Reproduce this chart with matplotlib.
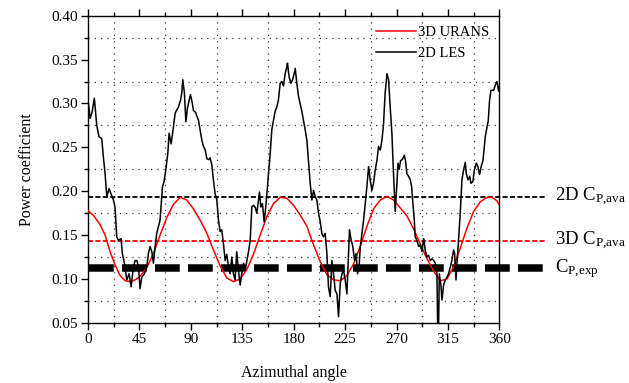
import matplotlib
matplotlib.use("Agg")
import matplotlib.pyplot as plt
from matplotlib.ticker import MultipleLocator

plt.rcParams['font.family'] = ['Liberation Serif', 'DejaVu Serif']
plt.rcParams['mathtext.fontset'] = 'custom'
plt.rcParams['mathtext.rm'] = 'Liberation Serif'
plt.rcParams['mathtext.it'] = 'Liberation Serif:italic'

# 2D LES power coefficient
les_angle = [0.3, 1.8, 3.5, 5.5, 7.6, 9.6, 12, 13.4, 14.9, 16.4, 18.4, 20.1, 22.2, 23.6, 25.1, 26.6,
             28.9, 30, 31.8, 33.9, 35.9, 37.7, 39.7, 41.2, 42.6, 44.1, 45.5, 47, 49.3, 51.4, 52.8,
             54.3, 55.8, 57.2, 58.7, 60.1, 63, 65.1, 66.5, 68, 69.8, 70.9, 72.7, 74.7, 76.2, 79.1,
             81, 82, 82.9, 84.3, 85.6, 87, 89.6, 91.3, 92.2, 94, 96.6, 98, 99.6, 101, 102.5, 104,
             105.5, 106.8, 108.3, 109.7, 111.2, 112.7, 114.1, 115.6, 117, 118.5, 120, 121.4, 122.9,
             124.3, 125.8, 127.2, 128.7, 130.1, 131.6, 133.1, 134.5, 136, 137.5, 139, 140.4, 141.9,
             143.3, 144.8, 146.2, 147.7, 149.1, 150, 151.2, 152.6, 154.1, 155, 156.5, 157.9, 159.4,
             160.8, 162.3, 163.7, 165.2, 166.6, 168.1, 169.5, 171, 172.5, 174, 174.5, 176, 177.5,
             179, 180.4, 181.3, 182.7, 184.2, 185.6, 187.1, 188.5, 190, 191.5, 192.9, 194.4, 195.9,
             197.3, 198.8, 200.2, 201.7, 203.1, 204.6, 206, 207.5, 209, 210.4, 211.9, 213.4, 214.8,
             216.3, 217.8, 219.2, 220.7, 222.2, 223.6, 225, 226.5, 227.9, 228.8, 230.3, 231.7,
             233.2, 234.6, 235.8, 237, 238.2, 239.7, 241.1, 242.6, 244, 245.5, 246.9, 248.4, 249.8,
             251.3, 252.8, 254.2, 255.7, 257.2, 258.6, 260, 261.6, 263, 264.4, 265.9, 267.3, 268.8,
             270.3, 271.2, 272.3, 273.5, 275, 276.7, 277.8, 279, 280.5, 282, 283.2, 284.3, 285.5,
             286.3, 287.8, 289.3, 290.8, 292.2, 293.6, 294.2, 295, 296.5, 298, 299.5, 301, 302.5,
             303.9, 305.3, 305.9, 306.8, 307.4, 308.8, 309.7, 311.1, 312.6, 314.1, 315.5, 317,
             318.4, 319.9, 320.8, 321.4, 322, 323, 324.3, 325.7, 327.2, 328.6, 330.1, 331, 332.5,
             334, 335.1, 336.8, 338, 339.8, 341.2, 342.6, 344, 345.6, 347.6, 349.1, 350.2, 351.4,
             352.6, 354.9, 356.4, 357.9, 359.3, 360]
les_cp = [0.300, 0.283, 0.290, 0.306, 0.275, 0.262, 0.260, 0.239, 0.220, 0.194, 0.203, 0.197, 0.190,
          0.182, 0.148, 0.144, 0.146, 0.129, 0.118, 0.099, 0.106, 0.091, 0.114, 0.121, 0.121, 0.115,
          0.089, 0.102, 0.106, 0.114, 0.129, 0.137, 0.131, 0.118, 0.137, 0.152, 0.167, 0.205, 0.211,
          0.224, 0.243, 0.266, 0.254, 0.273, 0.289, 0.296, 0.304, 0.312, 0.327, 0.312, 0.279, 0.295,
          0.310, 0.300, 0.292, 0.290, 0.281, 0.270, 0.258, 0.251, 0.247, 0.237, 0.236, 0.238, 0.230,
          0.213, 0.197, 0.190, 0.167, 0.154, 0.156, 0.140, 0.121, 0.128, 0.114, 0.106, 0.125, 0.106,
          0.099, 0.131, 0.110, 0.093, 0.106, 0.118, 0.110, 0.121, 0.131, 0.144, 0.182, 0.184, 0.182,
          0.175, 0.190, 0.199, 0.182, 0.186, 0.165, 0.175, 0.197, 0.220, 0.243, 0.270, 0.281, 0.291,
          0.296, 0.304, 0.323, 0.325, 0.320, 0.334, 0.342, 0.346, 0.330, 0.323, 0.327, 0.334, 0.340,
          0.323, 0.308, 0.300, 0.291, 0.281, 0.270, 0.258, 0.235, 0.209, 0.190, 0.201, 0.194, 0.190,
          0.175, 0.166, 0.152, 0.148, 0.152, 0.129, 0.091, 0.080, 0.121, 0.106, 0.087, 0.083, 0.057,
          0.095, 0.106, 0.110, 0.099, 0.083, 0.129, 0.156, 0.144, 0.137, 0.121, 0.129, 0.106, 0.110,
          0.136, 0.152, 0.167, 0.186, 0.205, 0.228, 0.213, 0.201, 0.209, 0.224, 0.235, 0.251, 0.247,
          0.258, 0.277, 0.312, 0.334, 0.327, 0.296, 0.266, 0.220, 0.177, 0.209, 0.232, 0.225, 0.235,
          0.236, 0.241, 0.235, 0.220, 0.217, 0.213, 0.205, 0.186, 0.167, 0.148, 0.144, 0.137, 0.139,
          0.131, 0.146, 0.142, 0.133, 0.125, 0.127, 0.121, 0.123, 0.121, 0.118, 0.106, 0.050, 0.050,
          0.106, 0.093, 0.076, 0.093, 0.099, 0.102, 0.106, 0.114, 0.121, 0.133, 0.129, 0.114, 0.099,
          0.121, 0.146, 0.175, 0.213, 0.224, 0.233, 0.220, 0.213, 0.217, 0.209, 0.211, 0.224, 0.232,
          0.228, 0.219, 0.228, 0.235, 0.262, 0.273, 0.280, 0.304, 0.315, 0.315, 0.321, 0.325, 0.314,
          0.319]

# 3D URANS power coefficient
urans_angle = [0, 5, 10.5, 14.9, 19.3, 23.6, 28, 32.4, 36.8, 41.2, 45.5, 51.4, 57.2, 63, 68.9, 74.7,
               80.6, 86.4, 92.2, 98.1, 104, 109.7, 115.6, 121.5, 127.2, 133.1, 139, 144.7, 150.6,
               156.5, 162.3, 168.1, 174, 179.8, 185.6, 191.5, 197.3, 203.1, 209, 214.8, 220.7,
               226.5, 232.3, 238.2, 244, 249.9, 255.7, 261.6, 267.4, 273.2, 279, 284.9, 290.7,
               296.6, 302.4, 308.2, 314.1, 319.9, 325.7, 331.6, 337.4, 343.3, 349.1, 353.5, 357.9, 360]
urans_cp = [0.178, 0.172, 0.162, 0.150, 0.131, 0.116, 0.104, 0.098, 0.097, 0.099, 0.103, 0.113, 0.129,
            0.150, 0.170, 0.185, 0.193, 0.190, 0.180, 0.167, 0.152, 0.133, 0.115, 0.101, 0.097, 0.100,
            0.111, 0.128, 0.150, 0.171, 0.186, 0.193, 0.192, 0.184, 0.173, 0.160, 0.139, 0.120, 0.105,
            0.099, 0.098, 0.104, 0.117, 0.137, 0.160, 0.180, 0.190, 0.194, 0.190, 0.181, 0.172, 0.157,
            0.140, 0.123, 0.109, 0.098, 0.100, 0.114, 0.135, 0.158, 0.177, 0.188, 0.193, 0.193, 0.189,
            0.184]

cp_2d_ava = 0.193
cp_3d_ava = 0.143
cp_exp = 0.112
ref_labels = ['2D C$_\\mathrm{P{,}ava}$', '3D C$_\\mathrm{P{,}ava}$', 'C$_\\mathrm{P{,}exp}$']

fig = plt.figure(figsize=(6.29, 3.83), dpi=100)
ax = fig.add_axes([0.140, 0.157, 0.654, 0.802])

ax.set_xlim(0, 360)
ax.set_ylim(0.05, 0.40)
ax.xaxis.set_major_locator(MultipleLocator(45))
ax.xaxis.set_minor_locator(MultipleLocator(22.5))
ax.yaxis.set_major_locator(MultipleLocator(0.05))
ax.yaxis.set_minor_locator(MultipleLocator(0.025))
ax.set_yticklabels([f'{v:.2f}' for v in ax.get_yticks()])
ax.grid(which='minor', color='0.25', linestyle=(0, (1, 4)), linewidth=0.9)
ax.tick_params(which='both', direction='out', top=True, right=False, labelsize=11,
               colors='black', pad=2)
ax.tick_params(which='major', length=5, width=1)
ax.tick_params(which='minor', length=3, width=1)
for s in ax.spines.values():
    s.set_linewidth(1.0)

ext = 400
ax.plot([0.8, ext], [cp_exp, cp_exp], color='black', linewidth=5.4, linestyle=(0, (3.3, 1.1)),
        clip_on=False, solid_capstyle='butt', dash_capstyle='butt', zorder=2)
ax.plot([0, ext], [cp_2d_ava, cp_2d_ava], color='black', linewidth=1.3, linestyle=(0, (2.8, 1.3)),
        clip_on=False, zorder=2)
ax.plot([0, ext], [cp_3d_ava, cp_3d_ava], color='red', linewidth=1.3, linestyle=(0, (2.8, 1.3)),
        clip_on=False, zorder=2)

l1, = ax.plot(urans_angle, urans_cp, color='red', linewidth=1.1, label='3D URANS', zorder=3)
l2, = ax.plot(les_angle, les_cp, color='black', linewidth=1.1, label='2D LES', zorder=4)

ax.legend(handles=[l1, l2], loc='upper right', bbox_to_anchor=(1.0, 1.0), frameon=False,
          fontsize=10.5, handlelength=2.7, handletextpad=0.15, borderaxespad=0.3,
          labelspacing=0.55)

for lab, yv in zip(ref_labels, [cp_2d_ava, cp_3d_ava, cp_exp]):
    ax.annotate(lab, xy=(555 / 629, yv), xycoords=('figure fraction', 'data'),
                ha='left', va='center', fontsize=13.5, annotation_clip=False)

ax.set_xlabel('Azimuthal angle', fontsize=11.5, labelpad=14)
ax.set_ylabel('Power coefficient', fontsize=11.5, labelpad=12)

fig.savefig('out.png', dpi=100)
